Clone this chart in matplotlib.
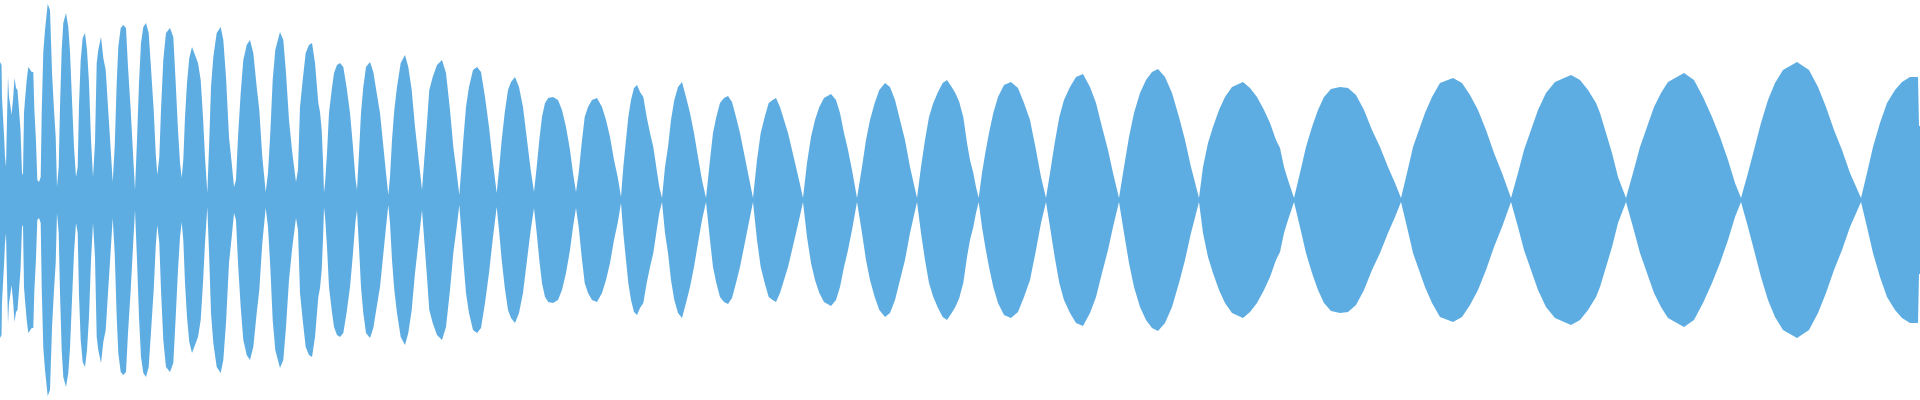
import numpy as np
import matplotlib.pyplot as plt

# envelope of the waveform
# t = sample position, amp = peak amplitude (full scale = 200)

# first part: narrow, noisy lobes
t_early = [0, 1.5, 2, 4, 5, 6, 7, 8, 9, 10.5, 11.5, 13, 14.5, 16, 17.5, 19, 20.5, 22,
           23, 24, 25, 26.7, 28.3, 31.7, 33.3, 34.3, 36, 37.3, 39,
           40.7, 41.7, 43.3, 45, 47.7, 50, 52, 54, 55.7, 57,
           58.7, 60, 61.7, 63.3, 66, 68.3, 70, 72, 74, 76,
           77.7, 79, 80.7, 82.7, 85, 87, 89, 91, 93,
           95, 96.7, 98.3, 101, 103.3, 105.7, 108, 110.3, 112.7,
           114.7, 116.7, 118.3, 120.7, 123.3, 126, 128, 130.7, 133, 135,
           137, 139, 141, 143.3, 146, 148.7, 151.3, 153.7, 155.7, 157.3,
           159.3, 161, 163.3, 166, 170, 173.3, 175.7, 178, 180, 181.7,
           183.3, 185, 187, 189.3, 192, 195, 198, 200.7, 203, 205, 207.3,
           209.3, 211, 213.3, 216.7, 220.7, 223.3, 226, 229, 231.7, 234,
           236, 238, 240.7, 243.3, 246.7, 250, 253.3, 256.7, 259.3, 262.3, 265.7,
           268, 270.3, 272.7, 275.3, 280, 283.3, 286, 289, 292.3, 296,
           298, 300, 302.7, 305.7, 309, 312, 315, 318.3, 320, 321.7, 323, 324]
amp_early = [138, 135, 102, 65, 43, 33, 80, 123, 103, 93, 85, 100, 122, 112, 110, 90, 70, 27,
             25, 87, 100, 120, 133, 128, 128, 92, 58, 20, 18,
             23, 87, 148, 170, 196, 190, 128, 90, 63, 13,
             33, 93, 150, 177, 187, 173, 148, 100, 53, 23,
             33, 95, 140, 162, 167, 150, 117, 60, 23,
             57, 137, 150, 163, 142, 130, 93, 57, 18,
             53, 117, 153, 172, 175, 172, 133, 90, 47, 10,
             60, 117, 157, 173, 177, 167, 127, 90, 47, 25,
             43, 90, 140, 167, 172, 163, 117, 70, 37, 22,
             40, 83, 117, 142, 153, 145, 137, 120, 83, 43, 7,
             60, 113, 143, 167, 173, 160, 123, 63, 37, 13,
             20, 63, 107, 140, 155, 160, 147, 113, 90, 43, 8,
             27, 67, 120, 150, 168, 160, 127, 80, 47, 18,
             30, 93, 120, 147, 155, 157, 137, 97, 88, 70, 40, 7]

# middle part
t_mid = [325.3, 327, 329, 331.7, 334, 337, 340, 343.3, 346.7, 350, 353, 355.3, 357,
         359, 361, 363.3, 366, 370, 373.3, 376.7, 380, 383, 386, 388.3,
         390, 392, 394.3, 397, 400.7, 405, 408.3, 411.7, 415, 418.7, 422,
         424, 426.7, 429.3, 432.7, 437, 442, 446, 450, 453.3, 456.7, 459.3,
         461, 463.3, 466, 469, 473, 477, 481, 485, 489, 493, 496.7,
         499, 501.7, 504.7, 508, 511, 515, 519, 523, 527, 530.7, 534,
         536.7, 539.3, 542, 545, 548.3, 553, 558, 562, 566, 570, 573, 576,
         578.7, 581.7, 584.7, 588, 592, 597, 602, 606, 610, 614, 617.7, 621,
         623.3, 626, 628.3, 631, 634, 637, 640, 643.3, 646.7, 650, 653.3, 656.7, 659.3, 662,
         665, 668, 671, 674.3, 678, 682, 686, 690, 694, 698, 702, 706,
         710, 713, 716.3, 720, 724, 728, 732, 736, 740, 744, 748, 753,
         757, 760.7, 764.7, 768.7, 772.7, 776, 780, 784, 788, 792, 796, 799.7, 803,
         807, 811, 815, 819.3, 824, 831, 836, 840, 844, 848, 852, 857,
         862, 866, 870, 874.7, 879.3, 885, 890, 895, 900, 905, 910, 917,
         921, 925, 929, 933.3, 938, 942.7, 947, 951.7, 955.3, 959.3, 960, 963.3, 967, 970, 973.3, 976, 978.7]
amp_mid = [20, 47, 87, 110, 127, 135, 137, 133, 112, 87, 53, 23, 10,
           47, 87, 113, 133, 138, 128, 107, 87, 57, 27, 5,
           23, 60, 90, 113, 137, 145, 133, 110, 73, 40, 10,
           37, 73, 110, 123, 135, 140, 127, 90, 53, 27, 5,
           27, 60, 93, 113, 130, 133, 128, 103, 73, 37, 7,
           30, 60, 87, 110, 118, 123, 113, 93, 60, 30, 8,
           33, 60, 83, 97, 102, 103, 100, 90, 73, 50, 27, 8,
           27, 57, 83, 93, 100, 102, 93, 80, 63, 40, 23, 3,
           33, 60, 83, 100, 112, 115, 108, 103, 83, 67, 53, 30, 13, 2,
           33, 53, 80, 100, 113, 118, 103, 87, 67, 43, 20, 2,
           40, 67, 83, 97, 102, 104, 98, 83, 67, 47, 27, 2,
           40, 67, 83, 97, 100, 102, 93, 80, 67, 50, 33, 17, 2,
           37, 63, 80, 93, 102, 106, 100, 87, 67, 50, 30, 2,
           33, 60, 80, 97, 110, 117, 113, 100, 80, 60, 33, 2,
           33, 60, 83, 97, 108, 117, 120, 113, 107, 98, 95, 83, 57, 40, 27, 13, 2]

# last part: wide, smooth lobes
t_late = [982, 985.3, 989, 993.3, 998, 1004, 1011, 1018, 1024, 1030, 1036, 1041, 1046,
          1050, 1054.7, 1059.3, 1064, 1070, 1076, 1083, 1090, 1096, 1102, 1108, 1113, 1119,
          1124, 1129, 1134, 1140, 1146, 1152, 1158, 1165, 1172, 1179, 1185, 1191, 1199,
          1203, 1208, 1213, 1219, 1225, 1232, 1243, 1250, 1257, 1264, 1270, 1276, 1280, 1284, 1288, 1294,
          1300, 1306, 1312, 1318, 1324, 1331, 1340, 1348, 1356, 1364, 1372, 1380, 1388, 1395, 1401,
          1407, 1413, 1419, 1425, 1432, 1440, 1453, 1462, 1470, 1478, 1486, 1494, 1502, 1511,
          1518, 1524, 1531, 1538, 1546, 1555, 1571, 1580, 1588, 1596, 1600, 1606, 1612, 1618, 1626,
          1633, 1640, 1647, 1654, 1661, 1668, 1684, 1694, 1703, 1712, 1720, 1728, 1735, 1741,
          1748, 1754, 1761, 1768, 1775, 1783, 1797, 1809, 1818, 1826, 1834, 1842, 1850, 1861,
          1867, 1873, 1880, 1887, 1895, 1902, 1910, 1918, 1919, 1920]
amp_late = [27, 47, 67, 87, 103, 115, 118, 112, 97, 80, 50, 23, 2,
            27, 57, 83, 100, 113, 123, 126, 113, 97, 73, 50, 27, 2,
            33, 63, 87, 107, 120, 128, 131, 123, 107, 83, 60, 33, 2,
            33, 57, 73, 90, 103, 113, 118, 112, 103, 90, 77, 60, 52, 33, 20, 2,
            27, 53, 73, 90, 103, 111, 113, 112, 105, 90, 70, 53, 33, 17, 2,
            27, 53, 70, 87, 103, 117, 122, 117, 105, 90, 70, 47, 27, 2,
            27, 50, 70, 90, 107, 118, 125, 120, 110, 97, 87, 67, 47, 23, 2,
            27, 53, 73, 93, 107, 118, 127, 120, 103, 83, 63, 40, 17, 2,
            27, 50, 77, 100, 117, 130, 138, 130, 113, 93, 70, 50, 27, 2,
            27, 53, 77, 97, 110, 118, 123, 123, 74, 74]

WAVE_COLOR = "#5DADE2"


def main():
    t = np.array(t_early + t_mid + t_late)
    amp = np.array(amp_early + amp_mid + amp_late)

    fig = plt.figure(figsize=(19.2, 4), dpi=100)
    ax = fig.add_axes([0, 0, 1, 1])
    ax.fill_between(t, -amp, amp, color=WAVE_COLOR, linewidth=0)
    ax.set_xlim(0, 1920)
    ax.set_ylim(-200, 200)
    ax.axis("off")
    fig.savefig("out.png", dpi=100, facecolor="white")


if __name__ == "__main__":
    main()
